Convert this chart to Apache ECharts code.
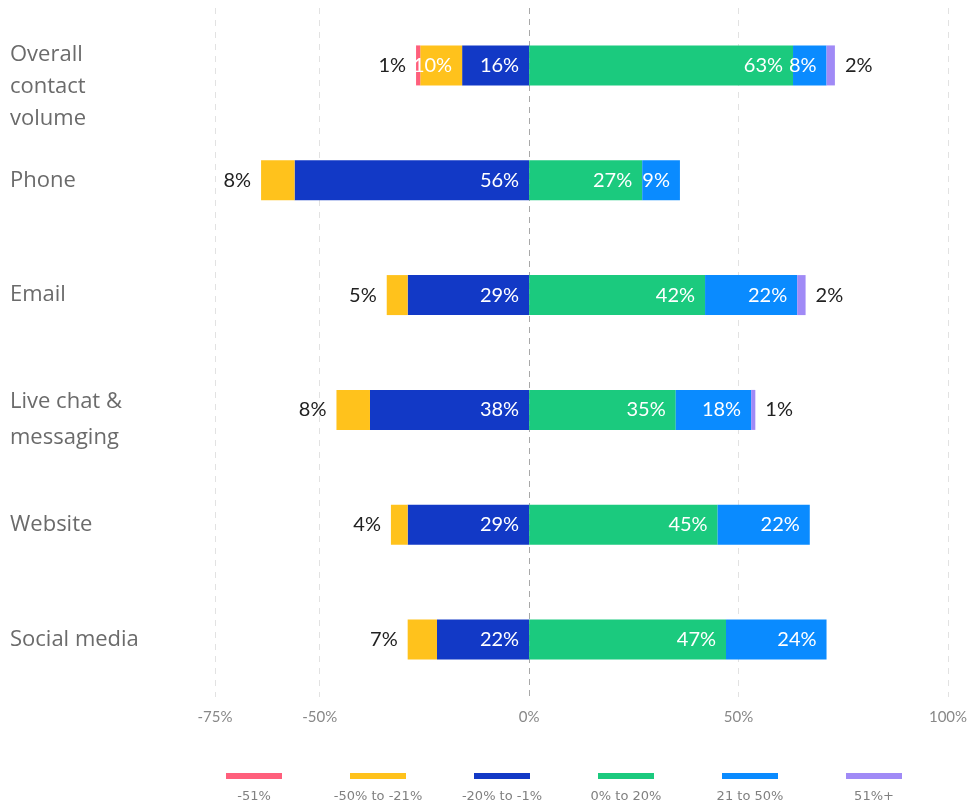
<!DOCTYPE html>
<html>
<head>
<meta charset="utf-8">
<script src="https://cdn.jsdelivr.net/npm/echarts@6/dist/echarts.min.js"></script>
<style>
  html, body { margin: 0; padding: 0; background: #fff; }
  #chart { width: 971px; height: 808px; }
</style>
</head>
<body>
<div id="chart"></div>
<script>
// data
var categories = ['Overall\ncontact\nvolume', 'Phone', 'Email', 'Live chat &\nmessaging', 'Website', 'Social media'];
var seriesNames = ['-51%', '-50% to -21%', '-20% to -1%', '0% to 20%', '21 to 50%', '51%+'];
var minus51 = [1, null, null, null, null, null];
var minus50to21 = [10, 8, 5, 8, 4, 7];
var minus20to1 = [16, 56, 29, 38, 29, 22];
var zeroTo20 = [63, 27, 42, 35, 45, 47];
var from21to50 = [8, 9, 22, 18, 22, 24];
var plus51 = [2, null, 2, 1, null, null];
var tickLabels = [-75, -50, 0, 50, 100];
var gridTicks = [-75, -50, 50, 100];

var colors = {
  '-51%': '#ff5f7c',
  '-50% to -21%': '#ffc21c',
  '-20% to -1%': '#1239c6',
  '0% to 20%': '#1bca7e',
  '21 to 50%': '#0a8bff',
  '51%+': '#a08af6'
};

var chart = echarts.init(document.getElementById('chart'));

var labelFont = {
  show: true,
  position: 'insideRight',
  distance: 10,
  color: '#fff',
  fontSize: 20,
  fontFamily: 'Lato',
  formatter: function (p) { return Math.abs(p.value) + '%'; }
};

// outermost small segments get their label outside the bar
function buildSeries(name, values, sign, outerFn, extra) {
  var data = values.map(function (v, i) {
    if (v == null) return null;
    var item = { value: sign * v };
    if (outerFn(i) && v < 9) {
      item.label = { position: 'outside', color: '#222', distance: 10 };
    }
    return item;
  });
  var s = {
    name: name,
    type: 'bar',
    stack: 'total',
    barWidth: 40,
    itemStyle: { color: colors[name] },
    label: labelFont,
    emphasis: { disabled: true },
    data: data
  };
  return Object.assign(s, extra || {});
}

var series = [
  buildSeries('-20% to -1%', minus20to1, -1, function () { return false; }),
  buildSeries('-50% to -21%', minus50to21, -1, function (i) { return minus51[i] == null; }),
  buildSeries('-51%', minus51, -1, function () { return true; }),
  buildSeries('0% to 20%', zeroTo20, 1, function () { return false; }, {
    markLine: {
      silent: true,
      symbol: 'none',
      z: 1,
      label: { show: false },
      data: gridTicks.map(function (t) {
        return { xAxis: t, lineStyle: { color: '#e2e2e2', type: [6, 6], width: 1 } };
      }).concat([{ xAxis: 0, lineStyle: { color: '#a8a8a8', type: [6, 5], width: 1 } }])
    }
  }),
  buildSeries('21 to 50%', from21to50, 1, function (i) { return plus51[i] == null; }),
  buildSeries('51%+', plus51, 1, function () { return true; })
];

var legendLeft = 226, legendStep = 124, swatchW = 56;
var legends = seriesNames.map(function (n, i) {
  return {
    data: [n],
    left: legendLeft + legendStep * i,
    top: 773,
    padding: 0,
    itemWidth: swatchW,
    itemHeight: 6,
    icon: 'rect',
    selectedMode: false,
    formatter: function () { return ''; }
  };
});

var option = {
  animation: false,
  backgroundColor: '#fff',
  grid: { left: 215, right: 23, top: 8, bottom: 111, outerBoundsMode: 'none' },
  legend: legends,
  // captions centred under each swatch
  graphic: seriesNames.map(function (n, i) {
    return {
      type: 'text',
      x: legendLeft + legendStep * i + swatchW / 2,
      y: 797,
      style: {
        text: n,
        fill: '#808080',
        fontSize: 13,
        fontFamily: 'DejaVu Sans',
        align: 'center',
        verticalAlign: 'middle'
      }
    };
  }),
  xAxis: {
    type: 'value',
    min: -75,
    max: 100,
    interval: 25,
    splitLine: { show: false },
    axisLine: { show: false },
    axisTick: { show: false },
    axisLabel: {
      color: '#888',
      fontSize: 15,
      fontFamily: 'Lato',
      margin: 13,
      formatter: function (v) { return tickLabels.indexOf(v) >= 0 ? v + '%' : ''; }
    }
  },
  yAxis: {
    type: 'category',
    inverse: true,
    data: categories,
    axisLine: { show: false },
    axisTick: { show: false },
    axisLabel: {
      align: 'left',
      margin: 205,
      color: '#6b6b6b',
      fontSize: 22,
      fontFamily: 'Open Sans',
      lineHeight: 32,
      formatter: function (v) {
        var ls = v.split('\n');
        if (ls.length === 1) return v;
        if (ls.length === 3) {
          return '{p3| }\n' + ls.map(function (l) { return '{t|' + l + '}'; }).join('\n');
        }
        return '{p2| }\n' + ls.map(function (l) { return '{u|' + l + '}'; }).join('\n');
      },
      rich: {
        t: { fontSize: 22, color: '#6b6b6b', fontFamily: 'Open Sans', lineHeight: 32 },
        u: { fontSize: 22, color: '#6b6b6b', fontFamily: 'Open Sans', lineHeight: 36 },
        p3: { fontSize: 10, lineHeight: 42 },
        p2: { fontSize: 10, lineHeight: 20 }
      }
    }
  },
  series: series
};

chart.setOption(option);
</script>
</body>
</html>
